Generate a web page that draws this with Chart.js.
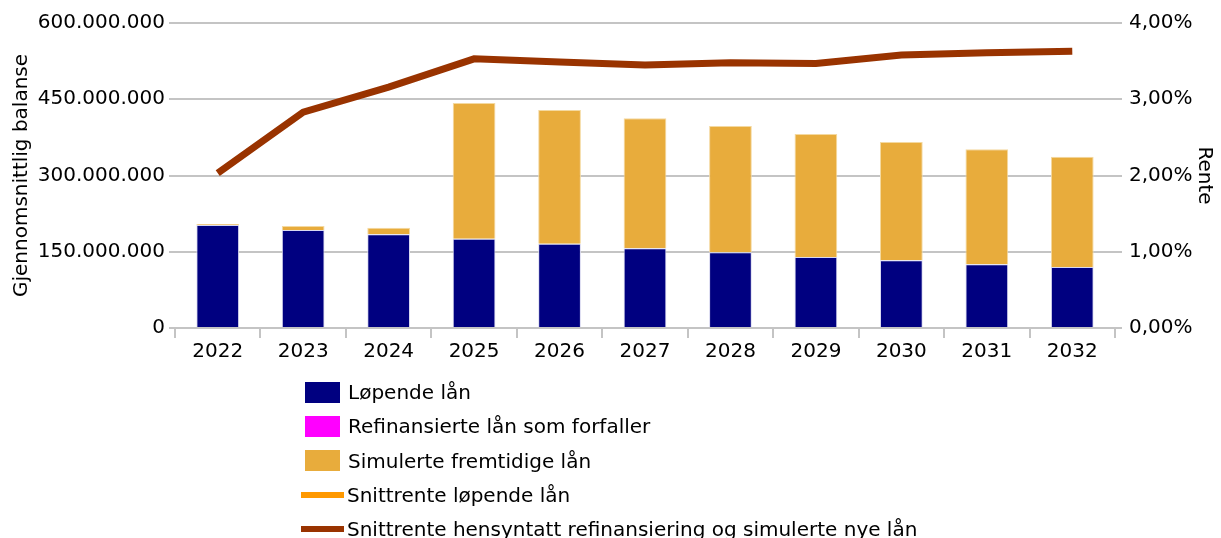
<!DOCTYPE html>
<html>
<head>
<meta charset="utf-8">
<script src="https://cdn.jsdelivr.net/npm/chart.js@4"></script>
<style>
    body { margin: 0; background: #fff; width: 1221px; height: 538px; overflow: hidden; position: relative; }
    #legend { position: absolute; left: 301px; top: 375px; font: 20px "DejaVu Sans"; color: #000; }
    .item { display: flex; align-items: center; height: 34.3px; white-space: nowrap; }
    .swatch { width: 43px; display: flex; align-items: center; }
</style>
</head>
<body>

<canvas id="myChart" width="1221" height="538"></canvas>
<div id="legend"></div>

<script>
const years = ['2022', '2023', '2024', '2025', '2026', '2027', '2028', '2029', '2030', '2031', '2032'];

// balanse i kroner
const lopendeLan = [202600000, 192800000, 184300000, 175700000, 165900000, 156800000, 148900000, 139700000, 133100000, 125200000, 120000000];
const refinansierteLan = [0, 0, 0, 0, 0, 0, 0, 0, 0, 0, 0];
const simulerteLan = [2000000, 7800000, 13000000, 267000000, 263100000, 255700000, 248500000, 242000000, 232800000, 226300000, 217000000];

// rente i prosent
const snittrenteLopende = [null, null, null, null, null, null, null, null, null, null, null];
const snittrenteTotal = [2.03, 2.83, 3.16, 3.53, 3.49, 3.45, 3.48, 3.47, 3.58, 3.61, 3.63];

const font = { family: 'DejaVu Sans', size: 20 };
const gridColor = '#c4c4c4';

function thousands(v) {
    return String(v).replace(/\B(?=(\d{3})+(?!\d))/g, '.');
}

var ctx = document.getElementById('myChart').getContext('2d');
const myChart = new Chart(ctx, {
    data: {
        labels: years,
        datasets: [{
            type: 'bar',
            label: 'Løpende lån',
            data: lopendeLan,
            backgroundColor: '#000080',
            borderColor: '#d8d8f0',
            borderWidth: 1,
            yAxisID: 'y',
            order: 2
        }, {
            type: 'bar',
            label: 'Refinansierte lån som forfaller',
            data: refinansierteLan,
            backgroundColor: '#ff00ff',
            borderColor: '#ff00ff',
            borderWidth: 0,
            yAxisID: 'y',
            order: 2
        }, {
            type: 'bar',
            label: 'Simulerte fremtidige lån',
            data: simulerteLan,
            backgroundColor: '#e8ac3c',
            borderColor: '#f4d9a0',
            borderWidth: 1,
            yAxisID: 'y',
            order: 2
        }, {
            type: 'line',
            label: 'Snittrente løpende lån',
            data: snittrenteLopende,
            borderColor: '#ff9900',
            backgroundColor: '#ff9900',
            borderWidth: 7,
            pointRadius: 0,
            yAxisID: 'y1',
            order: 1
        }, {
            type: 'line',
            label: 'Snittrente hensyntatt refinansiering og simulerte nye lån',
            data: snittrenteTotal,
            borderColor: '#993300',
            backgroundColor: '#993300',
            borderWidth: 7,
            pointRadius: 0,
            tension: 0,
            yAxisID: 'y1',
            order: 0
        }]
    },
    options: {
        responsive: false,
        animation: false,
        devicePixelRatio: 1,
        layout: { padding: { top: 23, bottom: 160, left: 0, right: 0 } },
        datasets: {
            bar: { barPercentage: 0.5, categoryPercentage: 1 }
        },
        plugins: {
            legend: { display: false },
            tooltip: { enabled: false }
        },
        scales: {
            x: {
                stacked: true,
                grid: { offset: true, drawOnChartArea: false, color: gridColor, lineWidth: 2, tickLength: 10 },
                border: { color: gridColor, width: 2 },
                ticks: { font: font, color: '#000', padding: 2, maxRotation: 0 },
                afterFit: (s) => { s.height = 50; }
            },
            y: {
                stacked: true,
                position: 'left',
                min: 0,
                max: 600000000,
                ticks: { stepSize: 150000000, font: font, color: '#000', padding: 4, callback: (v) => thousands(v) },
                grid: { color: gridColor, lineWidth: 2, tickLength: 6 },
                border: { display: false },
                title: { display: true, text: 'Gjennomsnittlig balanse', font: font, color: '#000', padding: { top: 10, bottom: 0 } },
                afterFit: (s) => { s.width = 175; }
            },
            y1: {
                position: 'right',
                min: 0,
                max: 4,
                ticks: { stepSize: 1, font: font, color: '#000', padding: 7, callback: (v) => v.toFixed(2).replace('.', ',') + '%' },
                grid: { drawOnChartArea: false, color: gridColor, lineWidth: 2, tickLength: 7 },
                border: { display: false },
                title: { display: true, text: 'Rente', font: font, color: '#000', padding: { top: 5, bottom: 0 } },
                afterFit: (s) => { s.width = 106; }
            }
        }
    }
});

// legend, en rad per serie
const legend = document.getElementById('legend');
myChart.data.datasets.forEach((ds) => {
    const item = document.createElement('div');
    item.className = 'item';
    const sw = document.createElement('div');
    sw.className = 'swatch';
    const mark = document.createElement('div');
    if (ds.type === 'bar') {
        mark.style.cssText = 'width:35px;height:21px;margin-left:4px;background:' + ds.backgroundColor;
    } else {
        mark.style.cssText = 'width:43px;height:6px;background:' + ds.borderColor;
    }
    sw.appendChild(mark);
    const txt = document.createElement('span');
    txt.textContent = ds.label;
    txt.style.marginLeft = ds.type === 'bar' ? '4px' : '3px';
    item.appendChild(sw);
    item.appendChild(txt);
    legend.appendChild(item);
});
</script>
</body>
</html>
